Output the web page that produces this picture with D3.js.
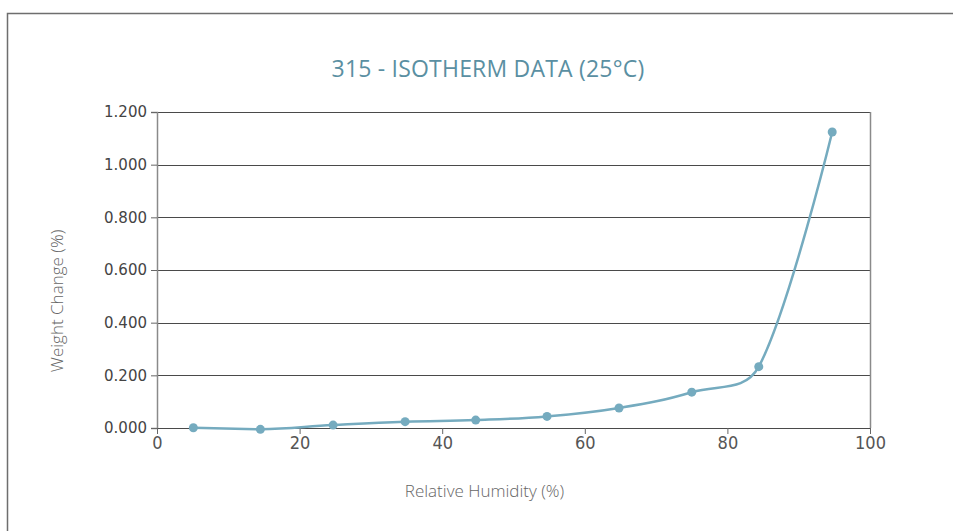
<!DOCTYPE html>
<html>
<head>
<meta charset="utf-8">
<script src="https://cdn.jsdelivr.net/npm/d3@7"></script>
<style>
  body { margin: 0; background: #fff; }
  svg { display: block; }
</style>
</head>
<body>
<div id="chart"></div>
<script>
// chart text
var chartTitle = "315 - ISOTHERM DATA (25°C)";
var xAxisName = "Relative Humidity (%)";
var yAxisName = "Weight Change (%)";

// data
var humidity = [5.1, 14.5, 24.7, 34.8, 44.7, 54.7, 64.8, 75.0, 84.4, 94.7];
var weightChange = [0.001, -0.005, 0.011, 0.024, 0.030, 0.044, 0.076, 0.136, 0.233, 1.124];
var xTicks = [0, 20, 40, 60, 80, 100];
var yTicks = [0, 0.2, 0.4, 0.6, 0.8, 1.0, 1.2];

var svgWidth = 953;
var svgHeight = 531;

var margin = { top: 112, right: 83, bottom: 103, left: 157 };
var chartWidth = svgWidth - margin.left - margin.right;
var chartHeight = svgHeight - margin.top - margin.bottom;

// spline curve; control arms are shortened so a segment never overshoots its neighbours
function SplineCurve(context) { this._context = context; }
SplineCurve.prototype = {
    areaStart: function () {},
    areaEnd: function () {},
    lineStart: function () { this._pts = []; },
    lineEnd: function () {
        var p = this._pts, n = p.length, ctx = this._context;
        if (!n) return;
        var smooth = 1.5, denom = 2.5;
        function limit(pt, cx, cy, ny) {
            // shrink arm (pt -> c) so its y stays between pt and neighbour y
            var dy = cy - pt[1], room = ny - pt[1];
            var k = 1;
            if (dy !== 0 && (Math.sign(dy) !== Math.sign(room) || Math.abs(dy) > Math.abs(room))) {
                k = Math.sign(dy) === Math.sign(room) ? room / dy : 0;
            }
            return [pt[0] + (cx - pt[0]) * k, pt[1] + dy * k];
        }
        var conts = p.map(function (pt, i) {
            if (i === 0 || i === n - 1) return null;
            var last = p[i - 1], next = p[i + 1];
            var lx = (smooth * pt[0] + last[0]) / denom,
                ly = (smooth * pt[1] + last[1]) / denom,
                rx = (smooth * pt[0] + next[0]) / denom,
                ry = (smooth * pt[1] + next[1]) / denom;
            if (rx !== lx) {
                var corr = ((ry - ly) * (rx - pt[0])) / (rx - lx) + pt[1] - ry;
                ly += corr; ry += corr;
            }
            return { l: limit(pt, lx, ly, last[1]), r: limit(pt, rx, ry, next[1]) };
        });
        ctx.moveTo(p[0][0], p[0][1]);
        for (var i = 1; i < n; i++) {
            var a = conts[i - 1] ? conts[i - 1].r : p[i - 1],
                b = conts[i] ? conts[i].l : p[i];
            ctx.bezierCurveTo(a[0], a[1], b[0], b[1], p[i][0], p[i][1]);
        }
    },
    point: function (x, y) { this._pts.push([+x, +y]); }
};
var curveSpline = function (context) { return new SplineCurve(context); };

var svg = d3.select("#chart")
    .append("svg")
    .attr("width", svgWidth)
    .attr("height", svgHeight);

// outer frame
svg.append("rect")
    .attr("x", 7.5)
    .attr("y", 13.5)
    .attr("width", 1000)
    .attr("height", 600)
    .attr("fill", "none")
    .attr("stroke", "#6e6e6e")
    .attr("stroke-width", 1.5);

svg.append("text")
    .attr("x", 488)
    .attr("y", 77)
    .attr("text-anchor", "middle")
    .style("font-family", "'Open Sans', sans-serif")
    .style("font-size", "23px")
    .style("letter-spacing", "0.2px")
    .style("fill", "#5a8fa2")
    .text(chartTitle);

var chart = svg.append("g")
    .attr("transform", `translate(${margin.left}, ${margin.top})`);

var data = humidity.map((h, i) => ({ x: h, y: weightChange[i] }));

var xScale = d3.scaleLinear()
    .domain([0, 100])
    .range([0, chartWidth]);

var yScale = d3.scaleLinear()
    .domain([0, 1.2])
    .range([chartHeight, 0]);

// grid lines
chart.append("g")
    .selectAll("line")
    .data(yTicks)
    .enter()
    .append("line")
    .attr("x1", 0)
    .attr("x2", chartWidth)
    .attr("y1", d => Math.round(yScale(d)) + 0.5)
    .attr("y2", d => Math.round(yScale(d)) + 0.5)
    .attr("stroke", "#4a4a4a")
    .attr("stroke-width", 1);

// right border
chart.append("line")
    .attr("x1", chartWidth + 0.5)
    .attr("x2", chartWidth + 0.5)
    .attr("y1", 0)
    .attr("y2", chartHeight)
    .attr("stroke", "#8a8a8a")
    .attr("stroke-width", 1.5);

// y axis
var yAxis = d3.axisLeft(yScale)
    .tickValues(yTicks)
    .tickFormat(d3.format(".3f"))
    .tickSize(6)
    .tickPadding(4);

var yG = chart.append("g").call(yAxis);
yG.select(".domain").attr("stroke", "#8a8a8a").attr("stroke-width", 1.5);
yG.selectAll(".tick line").attr("stroke", "#666");
yG.selectAll(".tick text")
    .style("font-family", "'DejaVu Sans', sans-serif")
    .style("font-size", "15px")
    .style("fill", "#444");

// x axis
var xAxis = d3.axisBottom(xScale)
    .tickValues(xTicks)
    .tickSize(6)
    .tickSizeOuter(0)
    .tickPadding(2);

var xG = chart.append("g")
    .attr("transform", `translate(0, ${chartHeight})`)
    .call(xAxis);
xG.select(".domain").attr("stroke", "#4a4a4a");
xG.selectAll(".tick line").attr("stroke", "#666");
xG.selectAll(".tick text")
    .style("font-family", "'Liberation Sans Narrow', 'DejaVu Sans Condensed', sans-serif")
    .style("font-size", "18px")
    .style("fill", "#555");

// axis titles
chart.append("text")
    .attr("x", chartWidth / 2 - 29)
    .attr("y", chartHeight + 69)
    .attr("text-anchor", "middle")
    .style("font-family", "'Open Sans', sans-serif")
    .style("font-size", "17px")
    .style("font-weight", 300)
    .style("fill", "#666")
    .text(xAxisName);

chart.append("text")
    .attr("transform", "rotate(-90)")
    .attr("x", -(301 - margin.top))
    .attr("y", -100)
    .attr("dy", "0.35em")
    .attr("text-anchor", "middle")
    .style("font-family", "'Open Sans', sans-serif")
    .style("font-size", "17px")
    .style("font-weight", 300)
    .style("fill", "#666")
    .text(yAxisName);

// series line
var line = d3.line()
    .x(d => xScale(d.x))
    .y(d => yScale(d.y))
    .curve(curveSpline);

chart.append("path")
    .datum(data)
    .attr("d", line)
    .attr("fill", "none")
    .attr("stroke", "#75abbf")
    .attr("stroke-width", 2.5);

chart.selectAll("circle")
    .data(data)
    .enter()
    .append("circle")
    .attr("cx", d => xScale(d.x))
    .attr("cy", d => yScale(d.y))
    .attr("r", 4.5)
    .attr("fill", "#75abbf");
</script>
</body>
</html>
